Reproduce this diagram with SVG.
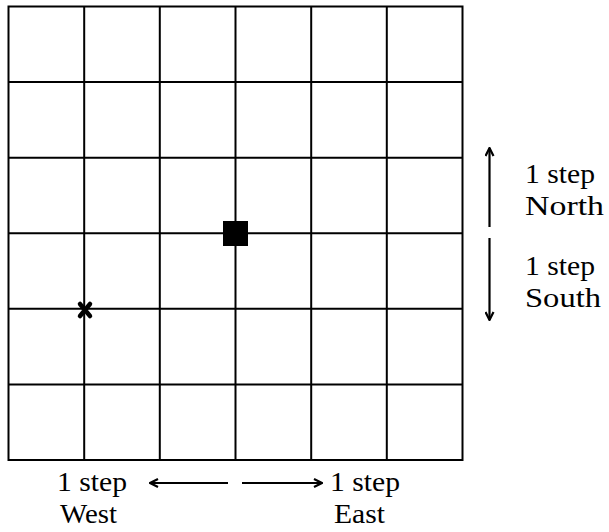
<svg xmlns="http://www.w3.org/2000/svg" width="609" height="532" viewBox="0 0 609 532">
<style>
.g{stroke:#000;stroke-width:2;fill:none}
.a{stroke:#000;stroke-width:2.2;fill:none}
.t{font-family:"Liberation Serif","Times New Roman",serif;font-size:27.5px;fill:#000}
</style>
<defs>
<marker id="ah" viewBox="0 0 10 10" refX="9" refY="5" markerWidth="10" markerHeight="10" markerUnits="userSpaceOnUse" orient="auto">
<path d="M1,1 L9,5 L1,9" fill="none" stroke="#000" stroke-width="2.2"/>
</marker>
</defs>
<g id="grid">
<rect class="g" x="8.5" y="6.5" width="454" height="453.5"/>
<path class="g" d="M84.2,6.5V460M159.8,6.5V460M235.5,6.5V460M311.2,6.5V460M386.8,6.5V460M8.5,82.1H462.5M8.5,157.7H462.5M8.5,233.3H462.5M8.5,308.8H462.5M8.5,384.4H462.5"/>
</g>
<g id="square"><rect x="223" y="221" width="25" height="25" fill="#000"/></g>
<g id="cross"><path d="M80,304L90,316M90,304L80,316" stroke="#000" stroke-width="4.5" stroke-linecap="round"/></g>
<g id="connectors">
<line class="a" x1="489.5" y1="227" x2="489.5" y2="148" marker-end="url(#ah)"/>
<line class="a" x1="489.5" y1="238" x2="489.5" y2="320" marker-end="url(#ah)"/>
<line class="a" x1="228" y1="483" x2="150" y2="483" marker-end="url(#ah)"/>
<line class="a" x1="242" y1="483" x2="322" y2="483" marker-end="url(#ah)"/>
</g>
<g id="north"><text class="t" x="525" y="183" textLength="70" lengthAdjust="spacingAndGlyphs">1 step</text><text class="t" x="525" y="215" textLength="79" lengthAdjust="spacingAndGlyphs">North</text></g>
<g id="south"><text class="t" x="525" y="275" textLength="70" lengthAdjust="spacingAndGlyphs">1 step</text><text class="t" x="525" y="307" textLength="76" lengthAdjust="spacingAndGlyphs">South</text></g>
<g id="west"><text class="t" x="57" y="491" textLength="70" lengthAdjust="spacingAndGlyphs">1 step</text><text class="t" x="60" y="523" textLength="57" lengthAdjust="spacingAndGlyphs">West</text></g>
<g id="east"><text class="t" x="330" y="491" textLength="70" lengthAdjust="spacingAndGlyphs">1 step</text><text class="t" x="334" y="523" textLength="51" lengthAdjust="spacingAndGlyphs">East</text></g>
</svg>
